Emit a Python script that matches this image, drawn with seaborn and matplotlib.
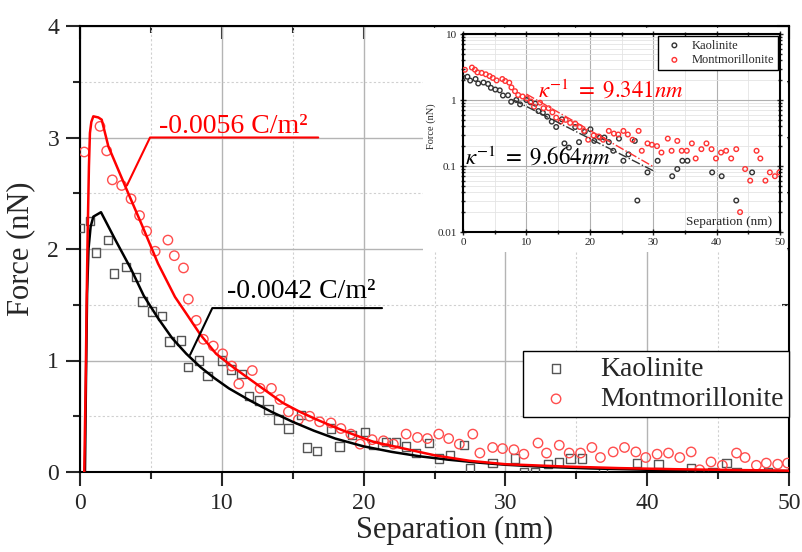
import matplotlib
matplotlib.use("Agg")
import matplotlib.pyplot as plt
import seaborn as sns
import pandas as pd
from matplotlib.ticker import MultipleLocator, FixedLocator, LogLocator, FuncFormatter, NullFormatter

# Measured force points (main panel)
kao_x = [0.0, 0.7, 1.13, 1.98, 2.4, 3.24, 3.95, 4.4, 5.1, 5.8, 6.3, 7.1, 7.6, 8.4, 9.0,
         10.0, 10.65, 11.4, 11.9, 12.6, 13.3, 14.0, 14.7, 15.6, 16.0, 16.7, 17.7, 18.3,
         19.2, 20.1, 20.7, 21.6, 22.3, 23.0, 23.7, 24.6, 25.3, 26.1, 27.1, 27.5, 29.1,
         30.7, 31.3, 32.1, 33.0, 33.8, 34.6, 35.4, 36.9, 39.3, 40.8, 43.1, 44.6, 45.6,
         46.3, 48.5]
kao_y = [2.19, 2.25, 1.97, 2.08, 1.78, 1.84, 1.75, 1.53, 1.44, 1.40, 1.17, 1.18, 0.94,
         1.0, 0.86, 1.0, 0.92, 0.88, 0.68, 0.64, 0.56, 0.47, 0.39, 0.51, 0.22, 0.19, 0.39,
         0.23, 0.33, 0.36, 0.24, 0.27, 0.27, 0.23, 0.17, 0.26, 0.12, 0.15, 0.24, 0.03,
         0.08, 0.12, 0.0, 0.0, 0.07, 0.09, 0.12, 0.12, 0.0, 0.08, 0.07, 0.03, 0.0, 0.08,
         0.0, 0.0]

mon_x = [0.3, 1.41, 1.88, 2.28, 2.94, 3.6, 4.2, 4.7, 5.3, 6.2, 6.65, 7.3, 7.64, 8.2, 8.7,
         9.4, 10.06, 10.7, 11.2, 12.15, 12.7, 13.5, 14.1, 14.7, 15.4, 16.2, 16.9, 17.7,
         18.4, 19.1, 19.75, 20.6, 21.4, 22.1, 23.0, 23.8, 24.5, 25.3, 26.0, 26.75, 27.7,
         28.2, 29.1, 29.8, 30.6, 31.3, 32.3, 32.9, 33.8, 34.5, 35.3, 36.1, 36.7, 37.6,
         38.4, 39.2, 39.9, 40.7, 41.5, 42.3, 43.1, 43.7, 44.5, 45.3, 46.3, 46.9, 47.7,
         48.4, 49.2, 49.9]
mon_y = [2.87, 3.10, 2.88, 2.62, 2.57, 2.45, 2.30, 2.16, 1.98, 2.08, 1.94, 1.83, 1.55,
         1.36, 1.19, 1.13, 1.06, 0.95, 0.79, 0.91, 0.75, 0.75, 0.65, 0.54, 0.47, 0.50,
         0.45, 0.44, 0.39, 0.34, 0.25, 0.29, 0.28, 0.25, 0.34, 0.31, 0.30, 0.34, 0.30,
         0.25, 0.34, 0.17, 0.22, 0.21, 0.20, 0.16, 0.26, 0.17, 0.24, 0.17, 0.17, 0.22,
         0.13, 0.18, 0.22, 0.18, 0.13, 0.16, 0.17, 0.13, 0.18, 0.02, 0.09, 0.06, 0.17,
         0.13, 0.06, 0.08, 0.07, 0.08]

# Fitted curves
kfit_x = [0.35, 0.42, 0.5, 0.6, 0.75, 0.94, 1.48, 2.5, 3.6, 4.5, 5.5, 6.5, 7.5, 8.5, 9.5,
          10.5, 12, 13.5, 15, 16.5, 18, 20, 22, 24, 26, 28, 30, 33, 36, 40, 45, 50]
kfit_y = [0.0, 0.8, 1.6, 2.0, 2.2, 2.29, 2.33, 2.08, 1.82, 1.58, 1.38, 1.2, 1.06, 0.94,
          0.84, 0.75, 0.64, 0.54, 0.45, 0.37, 0.3, 0.23, 0.18, 0.14, 0.11, 0.085, 0.065,
          0.045, 0.032, 0.02, 0.012, 0.008]
mfit_x = [0.3, 0.4, 0.47, 0.54, 0.63, 0.7, 0.8, 0.94, 1.29, 1.53, 2.0, 3.2, 4.35, 5.5,
          6.7, 7.5, 8.5, 9.6, 10.8, 12, 13.2, 14.3, 15.5, 16.7, 18, 19, 20.7, 22.5, 25,
          27.5, 30, 34, 38, 42, 46, 50]
mfit_y = [0.0, 0.8, 1.54, 2.14, 2.74, 3.04, 3.14, 3.19, 3.18, 3.16, 2.92, 2.56, 2.22,
          1.87, 1.57, 1.42, 1.23, 1.06, 0.94, 0.83, 0.72, 0.62, 0.54, 0.47, 0.4, 0.35,
          0.27, 0.22, 0.15, 0.1, 0.07, 0.05, 0.035, 0.025, 0.018, 0.012]

# Leader lines of the charge labels
red_lead_x = [3.31, 4.94, 16.8]
red_lead_y = [2.57, 3.0, 3.0]
blk_lead_x = [7.76, 9.33, 21.3]
blk_lead_y = [1.05, 1.47, 1.47]

# Debye-length fits in the inset (dash-dot)
kdeb_x = [8.0, 30.3]
kdeb_y = [1.0, 0.082]
mdeb_x = [10.0, 30.0]
mdeb_y = [1.23, 0.098]

sns.set_style("ticks")
plt.rcParams['font.family'] = ['Liberation Serif', 'DejaVu Serif']
plt.rcParams['mathtext.fontset'] = 'stix'

kao = pd.DataFrame({'x': kao_x, 'y': kao_y})
mon = pd.DataFrame({'x': mon_x, 'y': mon_y})

fig = plt.figure(figsize=(8.02, 5.52), dpi=100)
ax = fig.add_axes([80 / 802, 80 / 552, 709 / 802, 446 / 552])

# Main panel
sns.scatterplot(data=kao, x='x', y='y', marker='s', s=36, facecolor='none',
                edgecolor='#555555', linewidth=1.0, label='Kaolinite', ax=ax, zorder=3)
ax.collections[-1].set_facecolor('none')
sns.scatterplot(data=mon, x='x', y='y', marker='o', s=46, facecolor='none',
                edgecolor='#ff4d4d', linewidth=1.0, label='Montmorillonite', ax=ax, zorder=3)
ax.collections[-1].set_facecolor('none')
sns.lineplot(x=kfit_x, y=kfit_y, color='black', linewidth=1.8, estimator=None,
             sort=False, legend=False, ax=ax, zorder=4)
sns.lineplot(x=mfit_x, y=mfit_y, color='#ff0000', linewidth=1.8, estimator=None,
             sort=False, legend=False, ax=ax, zorder=4)

ax.plot(red_lead_x, red_lead_y, color='#ff0000', linewidth=1.5, zorder=4)
ax.plot(blk_lead_x, blk_lead_y, color='black', linewidth=1.5, zorder=4)
ax.text(5.57, 3.04, '-0.0056 C/m²', color='#ff0000', fontsize=20, ha='left', va='baseline')
ax.text(10.37, 1.558, '-0.0042 C/m²', color='black', fontsize=20, ha='left', va='baseline')

ax.set_xlim(0, 50)
ax.set_ylim(0, 4)
ax.xaxis.set_major_locator(MultipleLocator(10))
ax.xaxis.set_minor_locator(MultipleLocator(5))
ax.yaxis.set_major_locator(MultipleLocator(1))
ax.yaxis.set_minor_locator(MultipleLocator(0.5))
ax.grid(which='major', color='#b4b4b4', linewidth=1.0)
ax.grid(which='minor', color='#d0d0d0', linestyle=(0, (2, 2)), linewidth=0.8)
ax.set_axisbelow(True)
ax.tick_params(which='major', direction='out', length=10, width=1.5, labelsize=17, pad=5)
ax.tick_params(which='minor', direction='out', length=5, width=1.5)
for sp in ax.spines.values():
    sp.set_visible(True)
    sp.set_linewidth(1.5)
    sp.set_color('black')

top = ax.secondary_xaxis('top')
top.xaxis.set_major_locator(MultipleLocator(10))
top.xaxis.set_minor_locator(MultipleLocator(5))
top.tick_params(which='both', direction='in', labeltop=False, width=1.5)
top.tick_params(which='major', length=9)
top.tick_params(which='minor', length=5)
right = ax.secondary_yaxis('right')
right.yaxis.set_major_locator(MultipleLocator(1))
right.yaxis.set_minor_locator(MultipleLocator(0.5))
right.tick_params(which='both', direction='in', labelright=False, width=1.5)
right.tick_params(which='major', length=9)
right.tick_params(which='minor', length=5)

ax.set_xlabel('Separation (nm)', fontsize=22)
ax.xaxis.set_label_coords(0.528, -0.098)
ax.set_ylabel('Force (nN)', fontsize=22)
ax.yaxis.set_label_coords(-0.063, 0.5)

leg = ax.legend(loc='lower right', bbox_to_anchor=(1.0, 0.123), borderaxespad=0,
                fontsize=20, fancybox=False, edgecolor='black', framealpha=1,
                borderpad=0.18, labelspacing=0.18, handletextpad=0.6, handlelength=2.0)
leg.get_frame().set_linewidth(1.0)

# White panel behind the inset
cover = fig.add_axes([423 / 802, 300 / 552, 364 / 802, 224 / 552])
cover.set_facecolor('white')
cover.set_xticks([])
cover.set_yticks([])
for sp in cover.spines.values():
    sp.set_visible(False)

# Inset: log scale
ins = fig.add_axes([463 / 802, 320 / 552, 317 / 802, 198 / 552])
ins.set_yscale('log')
kpos = kao[kao['y'] > 0]
mpos = mon[mon['y'] > 0]
sns.scatterplot(data=kpos, x='x', y='y', marker='o', s=11, facecolor='none',
                edgecolor='#333333', linewidth=1.0, label='Kaolinite', ax=ins, zorder=3)
ins.collections[-1].set_facecolor('none')
sns.scatterplot(data=mpos, x='x', y='y', marker='o', s=11, facecolor='none',
                edgecolor='#ff3333', linewidth=1.0, label='Montmorillonite', ax=ins, zorder=3)
ins.collections[-1].set_facecolor('none')
sns.lineplot(x=kdeb_x, y=kdeb_y, color='#333333', linestyle='-.', linewidth=1.0,
             estimator=None, legend=False, ax=ins, zorder=4)
sns.lineplot(x=mdeb_x, y=mdeb_y, color='#ff3333', linestyle='-.', linewidth=1.0,
             estimator=None, legend=False, ax=ins, zorder=4)

ins.text(11.8, 1.42, r'$\kappa^{-1}\ =\ 9.341nm$', color='#ff0000', fontsize=16.5,
         ha='left', va='center')
ins.text(0.3, 0.138, r'$\kappa^{-1}\ =\ 9.664nm$', color='black', fontsize=16.5,
         ha='left', va='center')

ins.set_xlim(0, 50)
ins.set_ylim(0.01, 10)
ins.xaxis.set_major_locator(MultipleLocator(10))
ins.xaxis.set_minor_locator(MultipleLocator(5))
ins.yaxis.set_major_locator(FixedLocator([0.01, 0.1, 1, 10]))
ins.yaxis.set_minor_locator(LogLocator(base=10, subs=range(2, 10)))
ins.yaxis.set_major_formatter(FuncFormatter(lambda v, p: f'{v:g}'))
ins.yaxis.set_minor_formatter(NullFormatter())
ins.grid(which='major', color='#b0b0b0', linewidth=0.8)
ins.grid(which='minor', color='#e4e4e4', linewidth=0.6)
ins.set_axisbelow(True)
ins.tick_params(which='both', direction='inout', top=True, right=True, labelsize=8,
                width=1.0, pad=2)
ins.tick_params(which='major', length=5)
ins.tick_params(which='minor', length=3)
for sp in ins.spines.values():
    sp.set_visible(True)
    sp.set_linewidth(1.5)
    sp.set_color('black')

ins.set_ylabel('Force (nN)', fontsize=7.5)
ins.yaxis.set_label_coords(-0.085, 0.535)
ins.set_xlabel('Separation (nm)', fontsize=9.5, ha='right', va='center')
ins.xaxis.set_label_coords(0.975, 0.052)

ileg = ins.legend(loc='upper right', fontsize=9, fancybox=False, edgecolor='black',
                  framealpha=1, borderaxespad=0.15, borderpad=0.3, labelspacing=0.2,
                  handletextpad=0.4, handlelength=2.0)
ileg.get_frame().set_linewidth(1.0)

fig.savefig('out.png', dpi=100)
